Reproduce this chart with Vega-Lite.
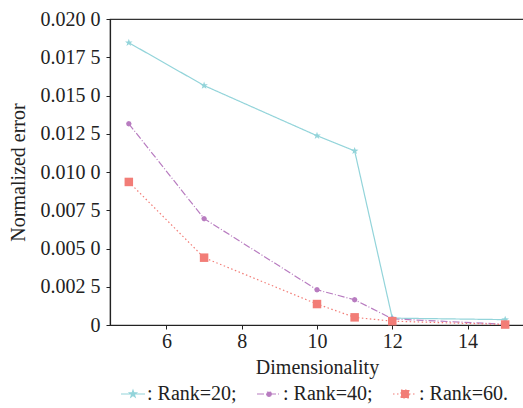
{
  "$schema": "https://vega.github.io/schema/vega-lite/v6.json",
  "width": 414,
  "height": 306,
  "autosize": "none",
  "padding": {"top": 19, "left": 110, "right": 0, "bottom": 83},
  "config": {
    "view": {"stroke": "#333333", "strokeWidth": 1.2},
    "font": "Times New Roman",
    "axis": {
      "labelFont": "Times New Roman", "labelFontSize": 20, "labelColor": "#222222",
      "titleFont": "Times New Roman", "titleFontSize": 20, "titleFontWeight": "normal", "titleColor": "#222222",
      "domainColor": "#222222", "tickColor": "#222222", "grid": false, "tickSize": 4, "domainWidth": 1.2
    },
    "legend": {"labelFont": "Times New Roman", "labelFontSize": 20, "labelColor": "#222222"}
  },
  "data": {"values": [
    {"x": 5, "y": 0.01845, "s": "Rank=20"},
    {"x": 7, "y": 0.01565, "s": "Rank=20"},
    {"x": 10, "y": 0.01237, "s": "Rank=20"},
    {"x": 11, "y": 0.01138, "s": "Rank=20"},
    {"x": 12, "y": 0.00045, "s": "Rank=20"},
    {"x": 15, "y": 0.00035, "s": "Rank=20"},
    {"x": 5, "y": 0.01315, "s": "Rank=40"},
    {"x": 7, "y": 0.00695, "s": "Rank=40"},
    {"x": 10, "y": 0.0023, "s": "Rank=40"},
    {"x": 11, "y": 0.00165, "s": "Rank=40"},
    {"x": 12, "y": 0.0004, "s": "Rank=40"},
    {"x": 15, "y": 0.00005, "s": "Rank=40"},
    {"x": 5, "y": 0.00935, "s": "Rank=60"},
    {"x": 7, "y": 0.0044, "s": "Rank=60"},
    {"x": 10, "y": 0.00137, "s": "Rank=60"},
    {"x": 11, "y": 0.0005, "s": "Rank=60"},
    {"x": 12, "y": 0.00025, "s": "Rank=60"},
    {"x": 15, "y": 0.00003, "s": "Rank=60"}
  ]},
  "encoding": {
    "x": {"field": "x", "type": "quantitative", "scale": {"domain": [4.5, 15.5], "nice": false, "zero": false},
      "axis": {"title": "Dimensionality", "values": [6, 8, 10, 12, 14], "titlePadding": 6, "labelPadding": 2}},
    "y": {"field": "y", "type": "quantitative", "scale": {"domain": [0, 0.02], "nice": false},
      "axis": {"title": "Normalized error", "values": [0, 0.0025, 0.005, 0.0075, 0.01, 0.0125, 0.015, 0.0175, 0.02],
        "labelExpr": "datum.value == 0 ? '0' : substring(format(datum.value, '.4f'), 0, 5) + ' ' + substring(format(datum.value, '.4f'), 5)",
        "titlePadding": 12, "labelPadding": 6}},
    "color": {"field": "s", "type": "nominal",
      "scale": {"domain": ["Rank=20", "Rank=40", "Rank=60"], "range": ["#93d4da", "#b87cc0", "#f27d77"]},
      "legend": {"orient": "none", "legendX": 10, "legendY": 362, "direction": "horizontal", "title": null, "symbolSize": 576, "columnPadding": 17, "labelOffset": 1,
        "labelExpr": "datum.label == 'Rank=60' ? ': Rank=60.' : ': ' + datum.label + ';'",
        "encode": {"symbols": {"update": {
          "shape": {"signal": "datum.value == 'Rank=20' ? 'M-1,0H1M0,-0.3L0.07,-0.097L0.285,-0.093L0.114,0.037L0.176,0.243L0,0.12L-0.176,0.243L-0.114,0.037L-0.285,-0.093L-0.07,-0.097Z' : datum.value == 'Rank=40' ? 'M-1,0H1M0.2,0L0.141,0.141L0,0.2L-0.141,0.141L-0.2,0L-0.141,-0.141L0,-0.2L0.141,-0.141Z' : 'M-1,0H1M-0.33,-0.33H0.33V0.33H-0.33Z'"},
          "fill": {"signal": "scale('color', datum.value)"},
          "stroke": {"signal": "scale('color', datum.value)"},
          "strokeDash": {"signal": "datum.value == 'Rank=20' ? [1,0] : datum.value == 'Rank=40' ? [6,2,1,2] : [1.5,2.5]"},
          "strokeWidth": {"value": 1.2},
          "opacity": {"value": 1}
        }}}}}
  },
  "layer": [
    {"mark": {"type": "line", "strokeWidth": 1.2},
     "encoding": {"strokeDash": {"field": "s", "type": "nominal",
       "scale": {"domain": ["Rank=20", "Rank=40", "Rank=60"], "range": [[1, 0], [7, 2, 1, 2], [1.5, 2.5]]}, "legend": null}}},
    {"transform": [{"filter": "datum.s == 'Rank=20'"}],
     "mark": {"type": "point", "filled": true, "opacity": 1, "size": 100,
       "shape": "M0,-0.8L0.188,-0.259L0.761,-0.247L0.304,0.099L0.470,0.647L0,0.32L-0.470,0.647L-0.304,0.099L-0.761,-0.247L-0.188,-0.259Z"}},
    {"transform": [{"filter": "datum.s == 'Rank=40'"}],
     "mark": {"type": "point", "filled": true, "opacity": 1, "size": 100,
       "shape": "M0.55,0L0.389,0.389L0,0.55L-0.389,0.389L-0.55,0L-0.389,-0.389L0,-0.55L0.389,-0.389Z"}},
    {"transform": [{"filter": "datum.s == 'Rank=60'"}],
     "mark": {"type": "point", "filled": true, "opacity": 1, "size": 100, "shape": "M-0.85,-0.85H0.85V0.85H-0.85Z"}}
  ]
}
